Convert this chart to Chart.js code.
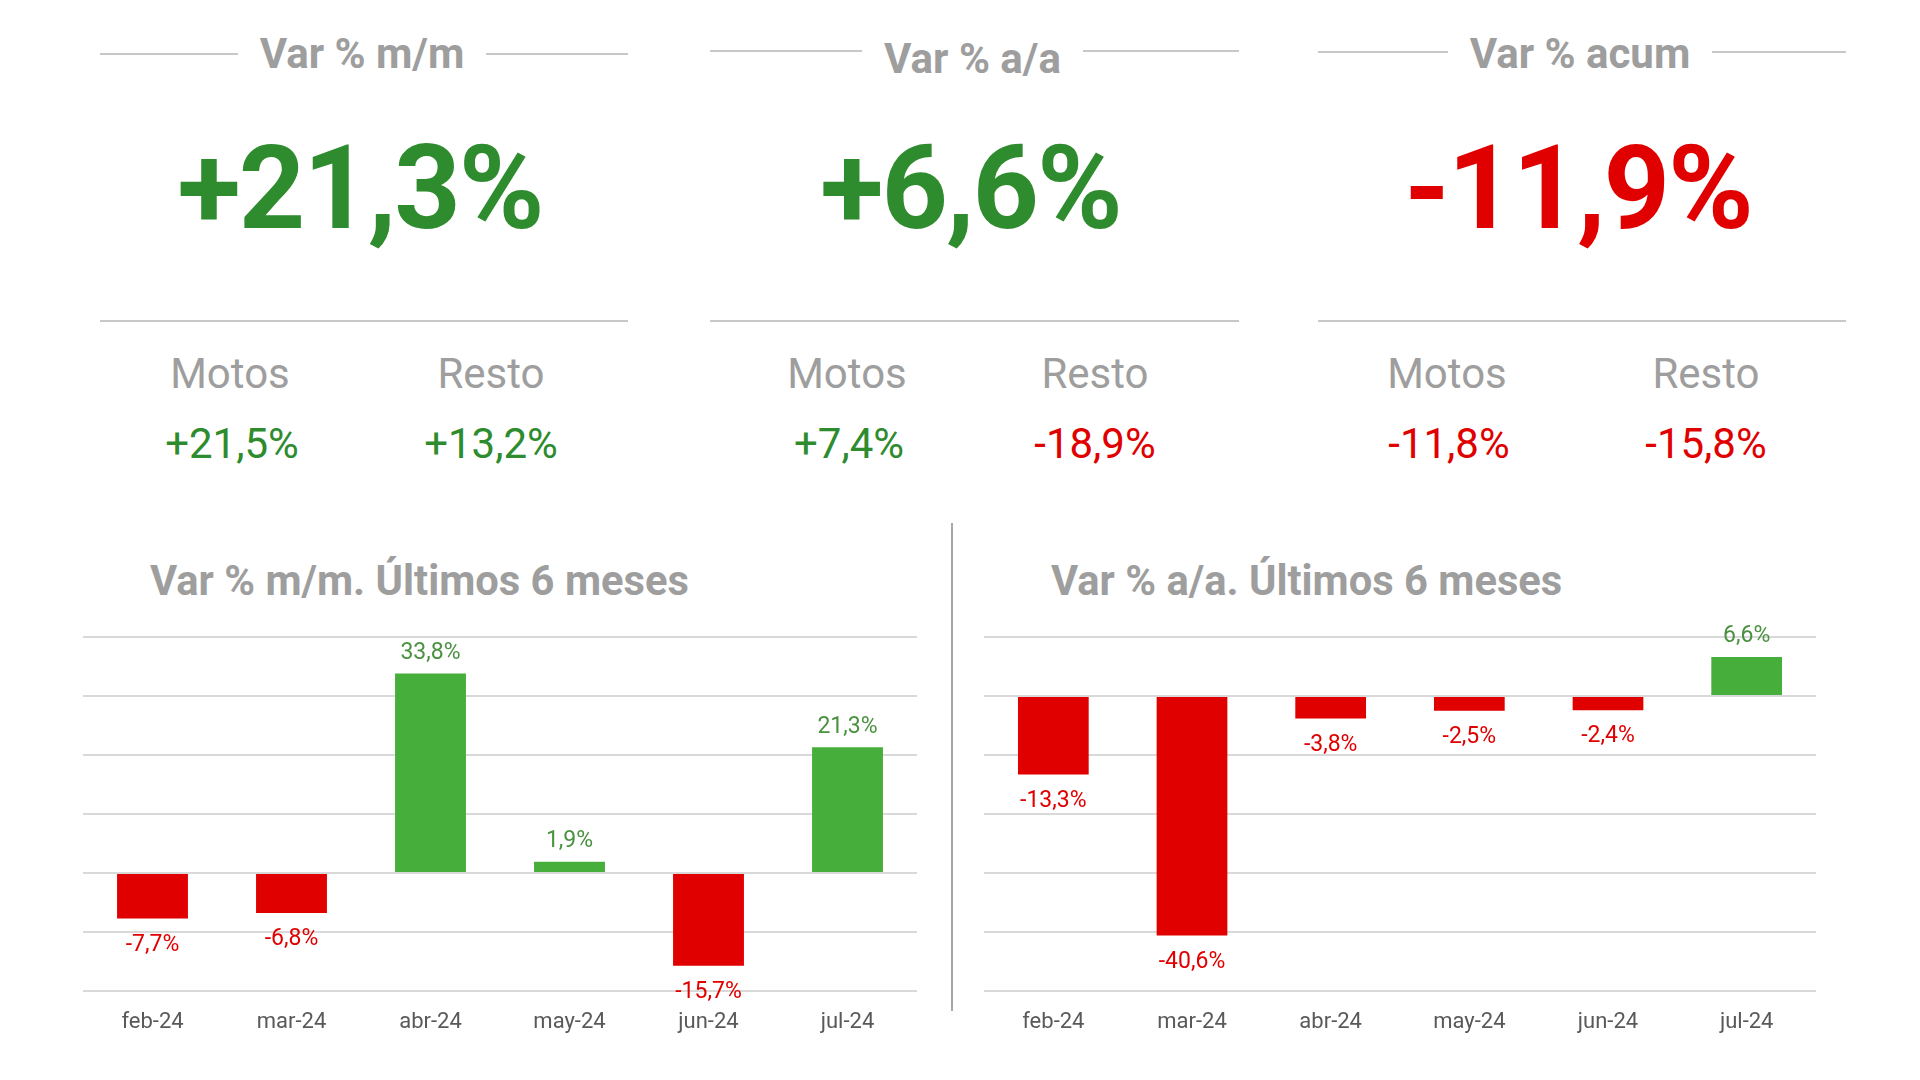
<!DOCTYPE html>
<html>
<head>
<meta charset="utf-8">
<script src="https://cdn.jsdelivr.net/npm/chart.js@4.4.1/dist/chart.umd.min.js"></script>
<style>
  body { margin: 0; background: #fff; font-family: Roboto, "Noto Sans", sans-serif; }
  #page { position: relative; width: 1920px; height: 1080px; overflow: hidden; }
  .abs { position: absolute; }
  .c { transform: translate(-50%, -50%); white-space: nowrap; }
  .hline { position: absolute; height: 2px; background: #c8c8c8; }
  .head { font-size: 42px; font-weight: 700; color: #9e9e9e; }
  .big { font-size: 116px; font-weight: 700; letter-spacing: -2px; }
  .sub { font-size: 42px; color: #9e9e9e; }
  .num { font-size: 42px; }
  .title { font-size: 41.7px; font-weight: 700; color: #9e9e9e; transform: translateY(-50%); white-space: nowrap; }
  .box { position: absolute; }
</style>
</head>
<body>
<div id="page">
  <div class="abs title" style="left:150px; top:580px;">Var % m/m. Últimos 6 meses</div>
  <div class="abs title" style="left:1051px; top:580px;">Var % a/a. Últimos 6 meses</div>
  <div class="abs" style="left:951px; top:523px; width:2px; height:488px; background:#a6a6a6;"></div>
  <div class="box" style="left:83px; top:612px; width:834px; height:429px;"><canvas id="chartMensual"></canvas></div>
  <div class="box" style="left:984px; top:612px; width:832px; height:429px;"><canvas id="chartAnual"></canvas></div>
</div>
<script>
const months = ["feb-24", "mar-24", "abr-24", "may-24", "jun-24", "jul-24"];
const varMensual = [-7.7, -6.8, 33.8, 1.9, -15.7, 21.3];
const varAnual = [-13.3, -40.6, -3.8, -2.5, -2.4, 6.6];

const kpiTitles = ["Var % m/m", "Var % a/a", "Var % acum"];
const kpiTotal = [21.3, 6.6, -11.9];
const kpiMotos = [21.5, 7.4, -11.8];
const kpiResto = [13.2, -18.9, -15.8];
const subLabels = ["Motos", "Resto"];

const GREEN_TXT = "#2e8b2e";
const GREEN_BAR = "#46ae3a";
const GREEN_LBL = "#4a9140";
const RED = "#e00000";

function fmt(v, sign) {
  let s = v.toFixed(1).replace(".", ",") + "%";
  if (sign && v > 0) s = "+" + s;
  return s;
}

// top KPI blocks
const cols = [
  { x0: 100, x1: 628, headY: 53, lineY: 54, sx: [130, 391] },
  { x0: 710, x1: 1239, headY: 58, lineY: 51, sx: [137, 385] },
  { x0: 1318, x1: 1846, headY: 53, lineY: 52, sx: [129, 388] }
];
const page = document.getElementById("page");
function add(cls, text, x, y, color) {
  const d = document.createElement("div");
  d.className = "abs c " + cls;
  d.textContent = text;
  d.style.left = x + "px";
  d.style.top = y + "px";
  if (color) d.style.color = color;
  page.appendChild(d);
  return d;
}
function line(x0, x1, y) {
  const d = document.createElement("div");
  d.className = "hline";
  d.style.left = x0 + "px";
  d.style.width = (x1 - x0) + "px";
  d.style.top = (y - 1) + "px";
  page.appendChild(d);
}
cols.forEach((c, i) => {
  const cx = (c.x0 + c.x1) / 2 - 2;
  const h = add("head", kpiTitles[i], cx, c.headY);
  const w = h.getBoundingClientRect().width;
  line(c.x0, cx - w / 2 - 22, c.lineY);
  line(cx + w / 2 + 22, c.x1, c.lineY);
  add("big", fmt(kpiTotal[i], true), cx - 2, 188, kpiTotal[i] >= 0 ? GREEN_TXT : RED);
  line(c.x0, c.x1, 321);
  const xs = [c.x0 + c.sx[0], c.x0 + c.sx[1]];
  add("sub", subLabels[0], xs[0], 373);
  add("sub", subLabels[1], xs[1], 373);
  add("num", fmt(kpiMotos[i], true), xs[0] + 2, 443, kpiMotos[i] >= 0 ? GREEN_TXT : RED);
  add("num", fmt(kpiResto[i], true), xs[1], 443, kpiResto[i] >= 0 ? GREEN_TXT : RED);
});

// value labels on bars
const barLabels = {
  id: "barLabels",
  afterDatasetsDraw(chart) {
    const ctx = chart.ctx;
    const ds = chart.data.datasets[0];
    chart.getDatasetMeta(0).data.forEach((bar, i) => {
      const v = ds.data[i];
      ctx.save();
      ctx.font = "23px Roboto";
      ctx.textAlign = "center";
      if (v >= 0) {
        ctx.fillStyle = GREEN_LBL;
        ctx.textBaseline = "bottom";
        ctx.fillText(fmt(v, false), bar.x, bar.y - 9);
      } else {
        ctx.fillStyle = RED;
        ctx.textBaseline = "top";
        ctx.fillText(fmt(v, false), bar.x, bar.y + 15);
      }
      ctx.restore();
    });
  }
};

function makeChart(id, values, min, max) {
  return new Chart(document.getElementById(id), {
    type: "bar",
    data: {
      labels: months,
      datasets: [{
        data: values,
        backgroundColor: values.map(v => v >= 0 ? GREEN_BAR : RED),
        barPercentage: 1,
        categoryPercentage: 0.51
      }]
    },
    options: {
      responsive: true,
      maintainAspectRatio: false,
      animation: false,
      layout: { padding: { top: 25, left: 0, right: 0, bottom: 0 } },
      plugins: { legend: { display: false }, tooltip: { enabled: false } },
      scales: {
        x: {
          grid: { display: false },
          border: { display: false },
          ticks: { color: "#595959", font: { family: "Roboto", size: 22 }, padding: 10 },
          afterFit(s) { s.height = 50; }
        },
        y: {
          min: min,
          max: max,
          ticks: { display: false, stepSize: 10 },
          border: { display: false },
          grid: { color: "#d9d9d9", lineWidth: 2, drawTicks: false },
          afterFit(s) { s.width = 0; }
        }
      }
    },
    plugins: [barLabels]
  });
}

makeChart("chartMensual", varMensual, -20, 40);
makeChart("chartAnual", varAnual, -50, 10);
</script>
</body>
</html>
